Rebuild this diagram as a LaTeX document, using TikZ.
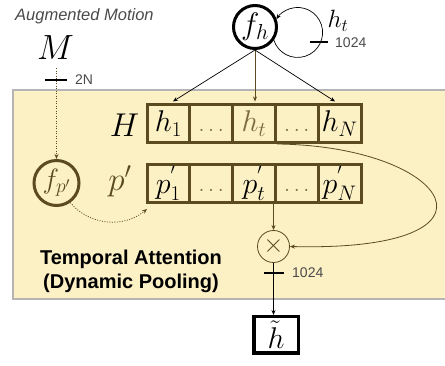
\RequirePackage{fix-cm}
\documentclass[tikz,border=0pt]{standalone}
\usepackage{fontspec}
\setsansfont{Liberation Sans}
\usetikzlibrary{arrows.meta,calc}
\definecolor{darkol}{HTML}{5B4B1F}
\definecolor{lightol}{HTML}{7A6A3E}
\definecolor{bgfill}{HTML}{FCF0C5}
\definecolor{bgline}{HTML}{B5B5B5}
\definecolor{lblgray}{HTML}{4A4A4A}
\newcommand{\celldots}{$\vphantom{h_1}$\fontsize{22}{22}\selectfont$\ldots$}
\begin{document}
\begin{tikzpicture}[x=1pt,y=1pt,
  cell/.style={draw=darkol, line width=3pt, minimum width=42.8pt, minimum height=38pt, inner sep=0pt, font=\fontsize{30}{30}\selectfont},
  arr/.style={-{Stealth[length=5pt,width=4pt]}, line width=0.7pt},
  oarr/.style={arr, draw=darkol},
  dotline/.style={-{Stealth[length=5pt,width=4pt]}, line width=0.8pt, draw=darkol, dash pattern=on 1pt off 1.5pt},
  tick/.style={line width=2pt},
  numlbl/.style={anchor=west, inner sep=0pt, text=lblgray, font=\sffamily\fontsize{14}{14}\selectfont},
  biglbl/.style={inner sep=0pt, font=\fontsize{33}{33}\selectfont}]
\useasboundingbox (0,0) rectangle (445,-366);
% background panel
\fill[bgfill] (13,-90) rectangle (445,-299);
\draw[bgline, line width=1.5pt] (445,-90) -- (13,-90) -- (13,-299) -- (445,-299);

% top labels
\node[anchor=west, inner sep=0pt, text=lblgray, font=\sffamily\itshape\fontsize{16.5}{16.5}\selectfont] (aug) at (15,-16) {Augmented Motion};
\node[biglbl, font=\fontsize{35}{35}\selectfont] (M) at (55.5,-48) {$M$};
\node[circle, draw=black, line width=3pt, minimum size=43pt, inner sep=0pt, font=\fontsize{31}{31}\selectfont] (fh) at (255,-27) {$f_h$};
\node[inner sep=0pt, font=\fontsize{25}{25}\selectfont] (htlab) at (338,-21) {$h_t$};

% H row
\node[biglbl] (Hlab) at (124.5,-125.5) {$H$};
\node[cell] (h1) at (168.4,-123.5) {$h_1$};
\node[cell, text=lightol] (hd1) at (211.2,-123.5) {\celldots};
\node[cell, text=lightol] (ht) at (254.0,-123.5) {$h_t$};
\node[cell, text=lightol] (hd2) at (296.8,-123.5) {\celldots};
\node[cell] (hN) at (339.6,-123.5) {$h_N$};

% p' row
\node[circle, draw=darkol, line width=3pt, minimum size=45pt, inner sep=0pt, text=darkol, font=\fontsize{28}{28}\selectfont] (fp) at (56.5,-183) {$f_{p'}$};
\node[biglbl, text=darkol] (plab) at (120,-181) {$p'$};
\node[cell] (p1) at (168.4,-183.5) {$p^{'}_1$};
\node[cell, text=lightol] (pd1) at (211.2,-183.5) {\celldots};
\node[cell] (pt) at (254.0,-183.5) {$p^{'}_t$};
\node[cell, text=lightol] (pd2) at (296.8,-183.5) {\celldots};
\node[cell] (pN) at (339.6,-183.5) {$p^{'}_N$};

% multiply and output
\node[circle, draw=darkol, line width=0.8pt, minimum size=32pt, inner sep=0pt, text=darkol, font=\fontsize{26}{26}\selectfont] (mul) at (273.5,-246.5) {$\times$};
\node[draw=black, line width=3.5pt, minimum width=44.5pt, minimum height=36.5pt, inner sep=0pt, font=\fontsize{30}{30}\selectfont] (hout) at (276,-335) {$\tilde{h}$};

\node[align=center, inner sep=0pt, font=\sffamily\bfseries\fontsize{20}{24}\selectfont] (ta) at (131,-271) {Temporal Attention\\(Dynamic Pooling)};

% self loop on f_h
\draw[arr] (fh.-35) arc[start angle=198, end angle=508, radius=25];
\draw[tick, line width=2.3pt] (310,-42) -- (328,-42);
\node[numlbl] (n1) at (335,-43) {1024};

% f_h to H
\draw[arr] (fh.south) -- ($(h1.north)+(4.5,1.5)$);
\draw[oarr] (fh.south) -- ($(ht.north)+(1,1.5)$);
\draw[arr] (fh.south) -- ($(hN.north)+(-4.5,1.5)$);

% M to f_p'
\draw[dotline, shorten <=8pt] (M.south -| fp) -- (fp.north);
\draw[tick] (45,-80) -- (67,-80);
\node[numlbl] (n2) at (75,-80) {2N};

% f_p' to p'
\draw[dotline] (fp.-55) to[out=-50, in=-140] ($(p1.south west)+(1.5,-5)$);

% attention
\draw[oarr] (pt.south -| mul) -- (mul.north);
\draw[oarr, line width=0.8pt] (ht.south east) .. controls (450,-146) and (520,-252) .. (mul.east);

% output
\draw[arr] (mul.south) -- (mul.south |- hout.north);
\draw[tick] (264,-273) -- (284,-273);
\node[numlbl] (n3) at (292,-273) {1024};
\end{tikzpicture}
\end{document}
